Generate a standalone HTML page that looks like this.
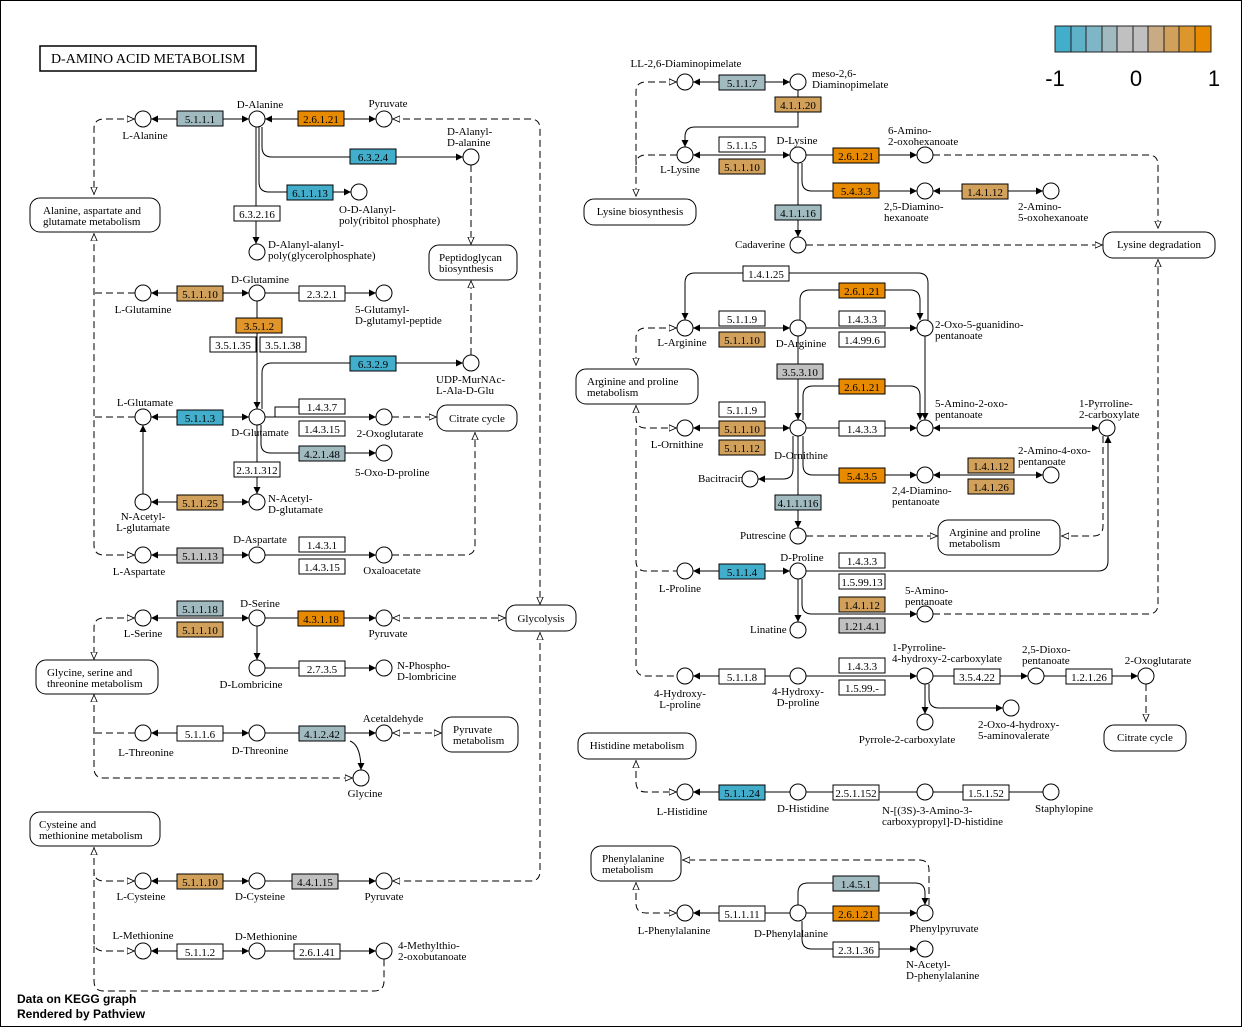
<!DOCTYPE html>
<html><head><meta charset="utf-8"><style>
html,body{margin:0;padding:0;background:#fff}
svg{display:block}
text{font-family:"Liberation Serif",serif;font-size:11px;fill:#000}
.c{fill:#fff;stroke:#000;stroke-width:1}
.l{fill:none;stroke:#000;stroke-width:1}
.d{fill:none;stroke:#000;stroke-width:1;stroke-dasharray:7,4}
.b{stroke:#000;stroke-width:1}
.p{fill:#fff;stroke:#000;stroke-width:1}
.m{text-anchor:middle}
</style></head><body>
<svg width="1242" height="1027" viewBox="0 0 1242 1027" xmlns="http://www.w3.org/2000/svg">
<defs>
<marker id="a" viewBox="0 0 10 10" refX="10" refY="5" markerWidth="7" markerHeight="7" orient="auto-start-reverse"><path d="M0,0L10,5L0,10z" fill="#000"/></marker>
<marker id="o" viewBox="0 0 10 10" refX="10" refY="5" markerWidth="8" markerHeight="8" orient="auto-start-reverse"><path d="M0,1L9,5L0,9z" fill="#fff" stroke="#000" stroke-width="1"/></marker>
</defs>
<rect x="0.5" y="0.5" width="1241" height="1026" fill="#fff" stroke="#000"/>
<!-- legend -->
<g stroke="#222" stroke-width="1">
<rect x="1055" y="26" width="16" height="26" fill="#43aecb"/><rect x="1071" y="26" width="15" height="26" fill="#5fb1c7"/><rect x="1086" y="26" width="16" height="26" fill="#7fb6c5"/><rect x="1102" y="26" width="15" height="26" fill="#a0bac0"/><rect x="1117" y="26" width="16" height="26" fill="#c0c0c0"/><rect x="1133" y="26" width="15" height="26" fill="#c0c0c0"/><rect x="1148" y="26" width="16" height="26" fill="#c8aa85"/><rect x="1164" y="26" width="15" height="26" fill="#d1a05a"/><rect x="1179" y="26" width="16" height="26" fill="#dd952e"/><rect x="1195" y="26" width="16" height="26" fill="#e78a00"/>
</g>
<text x="1055" y="86" class="m" style="font-family:'Liberation Sans',sans-serif;font-size:22px">-1</text>
<text x="1136" y="86" class="m" style="font-family:'Liberation Sans',sans-serif;font-size:22px">0</text>
<text x="1214" y="86" class="m" style="font-family:'Liberation Sans',sans-serif;font-size:22px">1</text>
<!-- title -->
<rect x="40" y="46" width="216" height="25" fill="#fff" stroke="#000" stroke-width="1.5"/>
<text x="148" y="63" class="m" style="font-size:14px">D-AMINO ACID  METABOLISM</text>

<!-- LEFT lines -->
<g class="l">
<path d="M151,119H249" marker-start="url(#a)" marker-end="url(#a)"/>
<path d="M265,119H376" marker-start="url(#a)" marker-end="url(#a)"/>
<path d="M262,127V147Q262,157 272,157H463" marker-end="url(#a)"/>
<path d="M259,127V182Q259,192 269,192H351" marker-end="url(#a)"/>
<path d="M256,127V244" marker-end="url(#a)"/>
<path d="M151,293H249" marker-start="url(#a)" marker-end="url(#a)"/>
<path d="M265,293H376" marker-end="url(#a)"/>
<path d="M257,301V409" marker-end="url(#a)"/>
<path d="M262,409V373Q262,363 272,363H463" marker-end="url(#a)"/>
<path d="M151,417H249" marker-start="url(#a)" marker-end="url(#a)"/>
<path d="M265,417H376" marker-end="url(#a)"/>
<path d="M275,417V407H299"/>
<path d="M261,425V444Q261,453 271,453H376" marker-end="url(#a)"/>
<path d="M257,425V494" marker-end="url(#a)"/>
<path d="M151,502H249" marker-start="url(#a)" marker-end="url(#a)"/>
<path d="M143,494V425" marker-end="url(#a)"/>
<path d="M151,555H249" marker-start="url(#a)" marker-end="url(#a)"/>
<path d="M265,555H376" marker-end="url(#a)"/>
<path d="M151,618H249" marker-start="url(#a)" marker-end="url(#a)"/>
<path d="M265,618H376" marker-end="url(#a)"/>
<path d="M257,626V660" marker-end="url(#a)"/>
<path d="M265,668H376" marker-end="url(#a)"/>
<path d="M151,733H249" marker-start="url(#a)" marker-end="url(#a)"/>
<path d="M265,733H376" marker-end="url(#a)"/>
<path d="M350,741Q361,745 361,770" marker-end="url(#a)"/>
<path d="M151,881H249" marker-start="url(#a)" marker-end="url(#a)"/>
<path d="M265,881H376" marker-end="url(#a)"/>
<path d="M151,951H249" marker-start="url(#a)" marker-end="url(#a)"/>
<path d="M265,951H376" marker-end="url(#a)"/>
</g>
<g class="d">
<path d="M135,119H104Q94,119 94,129V195" marker-start="url(#o)" marker-end="url(#o)"/>
<path d="M135,293H94"/>
<path d="M135,417H94"/>
<path d="M135,555H104Q94,555 94,545V233" marker-start="url(#o)" marker-end="url(#o)"/>
<path d="M392,119H530Q540,119 540,129V605" marker-start="url(#o)" marker-end="url(#o)"/>
<path d="M471,165V245" marker-end="url(#o)"/>
<path d="M471,355V280" marker-end="url(#o)"/>
<path d="M392,417H437" marker-end="url(#o)"/>
<path d="M392,555H465Q475,555 475,545V432" marker-end="url(#o)"/>
<path d="M392,618H506" marker-start="url(#o)" marker-end="url(#o)"/>
<path d="M135,618H104Q94,618 94,628V660" marker-start="url(#o)" marker-end="url(#o)"/>
<path d="M94,694V768Q94,778 104,778H353" marker-start="url(#o)" marker-end="url(#o)"/>
<path d="M135,733H94"/>
<path d="M392,733H442" marker-start="url(#o)" marker-end="url(#o)"/>
<path d="M540,632V871Q540,881 530,881H392" marker-start="url(#o)" marker-end="url(#o)"/>
<path d="M94,847V981Q94,991 104,991H374Q384,991 384,981V959" marker-start="url(#o)"/>
<path d="M135,881H104Q94,881 94,871" marker-start="url(#o)"/>
<path d="M135,951H104Q94,951 94,941" marker-start="url(#o)"/>
</g>

<!-- RIGHT lines -->
<g class="l">
<path d="M693,82H790" marker-start="url(#a)" marker-end="url(#a)"/>
<path d="M798,90V127H695Q685,127 685,137V147" marker-end="url(#a)"/>
<path d="M693,155H790" marker-start="url(#a)" marker-end="url(#a)"/>
<path d="M806,155H917" marker-end="url(#a)"/>
<path d="M802,163V181Q802,191 812,191H917" marker-end="url(#a)"/>
<path d="M933,191H1043" marker-start="url(#a)" marker-end="url(#a)"/>
<path d="M798,163V237" marker-end="url(#a)"/>
<path d="M928,320V283Q928,273 918,273H695Q685,273 685,283V320" marker-end="url(#a)"/>
<path d="M693,328H790" marker-start="url(#a)" marker-end="url(#a)"/>
<path d="M806,328H917" marker-end="url(#a)"/>
<path d="M800,320V300Q800,290 810,290H910Q920,290 920,300V320" marker-end="url(#a)"/>
<path d="M798,336V420" marker-end="url(#a)"/>
<path d="M803,420V396Q803,386 813,386H910Q920,386 920,396V420" marker-end="url(#a)"/>
<path d="M925,336V420" marker-end="url(#a)"/>
<path d="M693,428H790" marker-start="url(#a)" marker-end="url(#a)"/>
<path d="M806,428H917" marker-end="url(#a)"/>
<path d="M1099,428H933" marker-start="url(#a)" marker-end="url(#a)"/>
<path d="M803,436V465Q803,475 813,475H917" marker-end="url(#a)"/>
<path d="M933,475H1043" marker-start="url(#a)" marker-end="url(#a)"/>
<path d="M793,436V469Q793,479 783,479H758" marker-end="url(#a)"/>
<path d="M798,436V528" marker-end="url(#a)"/>
<path d="M693,571H790" marker-start="url(#a)" marker-end="url(#a)"/>
<path d="M806,571H1098Q1108,571 1108,561V436" marker-end="url(#a)"/>
<path d="M802,579V604Q802,614 812,614H917" marker-end="url(#a)"/>
<path d="M798,579V622" marker-end="url(#a)"/>
<path d="M790,676H693" marker-end="url(#a)"/>
<path d="M806,676H917" marker-end="url(#a)"/>
<path d="M933,676H1028" marker-end="url(#a)"/>
<path d="M1044,676H1138" marker-end="url(#a)"/>
<path d="M925,684V714" marker-end="url(#a)"/>
<path d="M929,684V698Q929,708 939,708H1003" marker-end="url(#a)"/>
<path d="M790,792H693" marker-end="url(#a)"/>
<path d="M806,792H917"/>
<path d="M933,792H1043"/>
<path d="M790,913H693" marker-end="url(#a)"/>
<path d="M806,913H917" marker-end="url(#a)"/>
<path d="M798,905V893Q798,883 808,883H915Q925,883 925,893V905" marker-end="url(#a)"/>
<path d="M802,921V939Q802,949 812,949H917" marker-end="url(#a)"/>
</g>
<g class="d">
<path d="M677,82H646Q636,82 636,92V197" marker-start="url(#o)" marker-end="url(#o)"/>
<path d="M677,155H646Q636,155 636,165"/>
<path d="M933,155H1148Q1158,155 1158,165V229" marker-end="url(#o)"/>
<path d="M806,245H1103" marker-end="url(#o)"/>
<path d="M677,328H646Q636,328 636,338V366" marker-start="url(#o)" marker-end="url(#o)"/>
<path d="M636,405V418Q636,428 646,428H677" marker-start="url(#o)" marker-end="url(#o)"/>
<path d="M636,428V561Q636,571 646,571H677"/>
<path d="M636,571V666Q636,676 646,676H677"/>
<path d="M806,536H938" marker-end="url(#o)"/>
<path d="M1103,436V526Q1103,536 1093,536H1061" marker-end="url(#o)"/>
<path d="M933,614H1148Q1158,614 1158,604V259" marker-end="url(#o)"/>
<path d="M1146,684V722" marker-end="url(#o)"/>
<path d="M636,760V782Q636,792 646,792H677" marker-start="url(#o)" marker-end="url(#o)"/>
<path d="M636,882V903Q636,913 646,913H677" marker-start="url(#o)" marker-end="url(#o)"/>
<path d="M929,905V870Q929,860 919,860H682" marker-end="url(#o)"/>
</g>

<!-- circles -->
<g class="c">
<circle cx="143" cy="119" r="8"/><circle cx="257" cy="119" r="8"/><circle cx="384" cy="119" r="8"/><circle cx="471" cy="157" r="8"/><circle cx="359" cy="192" r="8"/><circle cx="257" cy="252" r="8"/>
<circle cx="143" cy="293" r="8"/><circle cx="257" cy="293" r="8"/><circle cx="384" cy="293" r="8"/><circle cx="471" cy="363" r="8"/>
<circle cx="143" cy="417" r="8"/><circle cx="257" cy="417" r="8"/><circle cx="384" cy="417" r="8"/><circle cx="384" cy="453" r="8"/><circle cx="257" cy="502" r="8"/><circle cx="143" cy="502" r="8"/>
<circle cx="143" cy="555" r="8"/><circle cx="257" cy="555" r="8"/><circle cx="384" cy="555" r="8"/>
<circle cx="143" cy="618" r="8"/><circle cx="257" cy="618" r="8"/><circle cx="384" cy="618" r="8"/><circle cx="257" cy="668" r="8"/><circle cx="384" cy="668" r="8"/>
<circle cx="143" cy="733" r="8"/><circle cx="257" cy="733" r="8"/><circle cx="384" cy="733" r="8"/><circle cx="361" cy="778" r="8"/>
<circle cx="143" cy="881" r="8"/><circle cx="257" cy="881" r="8"/><circle cx="384" cy="881" r="8"/>
<circle cx="143" cy="951" r="8"/><circle cx="257" cy="951" r="8"/><circle cx="384" cy="951" r="8"/>
<circle cx="685" cy="82" r="8"/><circle cx="798" cy="82" r="8"/><circle cx="685" cy="155" r="8"/><circle cx="798" cy="155" r="8"/><circle cx="925" cy="155" r="8"/><circle cx="925" cy="191" r="8"/><circle cx="1051" cy="191" r="8"/><circle cx="798" cy="245" r="8"/>
<circle cx="685" cy="328" r="8"/><circle cx="798" cy="328" r="8"/><circle cx="925" cy="328" r="8"/>
<circle cx="685" cy="428" r="8"/><circle cx="798" cy="428" r="8"/><circle cx="925" cy="428" r="8"/><circle cx="1107" cy="428" r="8"/>
<circle cx="925" cy="475" r="8"/><circle cx="1051" cy="475" r="8"/><circle cx="750" cy="479" r="8"/><circle cx="798" cy="536" r="8"/>
<circle cx="685" cy="571" r="8"/><circle cx="798" cy="571" r="8"/><circle cx="925" cy="614" r="8"/><circle cx="798" cy="630" r="8"/>
<circle cx="685" cy="676" r="8"/><circle cx="798" cy="676" r="8"/><circle cx="925" cy="676" r="8"/><circle cx="1036" cy="676" r="8"/><circle cx="1146" cy="676" r="8"/><circle cx="925" cy="722" r="8"/><circle cx="1011" cy="708" r="8"/>
<circle cx="685" cy="792" r="8"/><circle cx="798" cy="792" r="8"/><circle cx="925" cy="792" r="8"/><circle cx="1051" cy="792" r="8"/>
<circle cx="685" cy="913" r="8"/><circle cx="798" cy="913" r="8"/><circle cx="925" cy="913" r="8"/><circle cx="925" cy="949" r="8"/>
</g>

<!-- pathway boxes -->
<g class="p">
<rect x="30" y="198" width="130" height="34" rx="10"/><rect x="429" y="245" width="88" height="35" rx="10"/><rect x="437" y="405" width="80" height="26" rx="10"/>
<rect x="506" y="605" width="70" height="26" rx="10"/><rect x="36" y="660" width="122" height="34" rx="10"/><rect x="442" y="717" width="76" height="35" rx="10"/>
<rect x="30" y="812" width="130" height="34" rx="10"/>
<rect x="584" y="199" width="112" height="26" rx="10"/><rect x="1103" y="232" width="112" height="26" rx="10"/><rect x="576" y="369" width="122" height="35" rx="10"/><rect x="938" y="520" width="122" height="35" rx="10"/>
<rect x="1104" y="725" width="82" height="26" rx="10"/><rect x="578" y="733" width="118" height="26" rx="10"/><rect x="591" y="846" width="90" height="35" rx="10"/>
</g>
<text x="43" y="214">Alanine, aspartate and</text><text x="43" y="225">glutamate metabolism</text>
<text x="439" y="261">Peptidoglycan</text><text x="439" y="272">biosynthesis</text>
<text x="477" y="422" class="m">Citrate cycle</text>
<text x="541" y="622" class="m">Glycolysis</text>
<text x="47" y="676">Glycine, serine and</text><text x="47" y="687">threonine metabolism</text>
<text x="453" y="733">Pyruvate</text><text x="453" y="744">metabolism</text>
<text x="39" y="828">Cysteine and</text><text x="39" y="839">methionine metabolism</text>
<text x="640" y="215" class="m">Lysine biosynthesis</text>
<text x="1159" y="248" class="m">Lysine degradation</text>
<text x="587" y="385">Arginine and proline</text><text x="587" y="396">metabolism</text>
<text x="949" y="536">Arginine and proline</text><text x="949" y="547">metabolism</text>
<text x="1145" y="741" class="m">Citrate cycle</text>
<text x="637" y="749" class="m">Histidine metabolism</text>
<text x="602" y="862">Phenylalanine</text><text x="602" y="873">metabolism</text>

<!-- enzyme boxes -->
<g class="b">
<rect x="177" y="111" width="46" height="15" fill="#a0bac0"/><rect x="298" y="111" width="46" height="15" fill="#e78a00"/><rect x="350" y="149" width="46" height="15" fill="#43aecb"/><rect x="287" y="185" width="46" height="15" fill="#43aecb"/><rect x="234" y="206" width="46" height="15" fill="#fff"/>
<rect x="177" y="286" width="46" height="15" fill="#d1a05a"/><rect x="299" y="286" width="46" height="15" fill="#fff"/><rect x="236" y="318" width="46" height="15" fill="#e0952b"/><rect x="210" y="337" width="46" height="15" fill="#fff"/><rect x="260" y="337" width="46" height="15" fill="#fff"/>
<rect x="350" y="356" width="46" height="15" fill="#43aecb"/><rect x="177" y="410" width="46" height="15" fill="#43aecb"/><rect x="299" y="399" width="46" height="15" fill="#fff"/><rect x="299" y="421" width="46" height="15" fill="#fff"/><rect x="299" y="446" width="46" height="15" fill="#a0bac0"/><rect x="234" y="462" width="46" height="15" fill="#fff"/>
<rect x="177" y="495" width="46" height="15" fill="#d1a05a"/><rect x="177" y="548" width="46" height="15" fill="#c0c0c0"/><rect x="299" y="537" width="46" height="15" fill="#fff"/><rect x="299" y="559" width="46" height="15" fill="#fff"/>
<rect x="177" y="601" width="46" height="15" fill="#a0bac0"/><rect x="177" y="622" width="46" height="15" fill="#d1a05a"/><rect x="298" y="611" width="46" height="15" fill="#e78a00"/><rect x="299" y="661" width="46" height="15" fill="#fff"/>
<rect x="177" y="726" width="46" height="15" fill="#fff"/><rect x="299" y="726" width="46" height="15" fill="#a0bac0"/>
<rect x="177" y="874" width="46" height="15" fill="#d1a05a"/><rect x="292" y="874" width="46" height="15" fill="#c0c0c0"/><rect x="177" y="944" width="46" height="15" fill="#fff"/><rect x="294" y="944" width="46" height="15" fill="#fff"/>
<rect x="719" y="75" width="46" height="15" fill="#a0bac0"/><rect x="775" y="97" width="46" height="15" fill="#d1a05a"/><rect x="719" y="137" width="46" height="15" fill="#fff"/><rect x="719" y="159" width="46" height="15" fill="#d1a05a"/><rect x="833" y="148" width="46" height="15" fill="#e78a00"/><rect x="833" y="183" width="46" height="15" fill="#e78a00"/><rect x="962" y="184" width="46" height="15" fill="#d1a05a"/><rect x="775" y="205" width="46" height="15" fill="#a0bac0"/>
<rect x="743" y="266" width="46" height="15" fill="#fff"/><rect x="839" y="283" width="46" height="15" fill="#e78a00"/><rect x="719" y="311" width="46" height="15" fill="#fff"/><rect x="719" y="332" width="46" height="15" fill="#d1a05a"/><rect x="839" y="311" width="46" height="15" fill="#fff"/><rect x="839" y="332" width="46" height="15" fill="#fff"/>
<rect x="777" y="364" width="46" height="15" fill="#c0c0c0"/><rect x="839" y="379" width="46" height="15" fill="#e78a00"/><rect x="719" y="402" width="46" height="15" fill="#fff"/><rect x="719" y="421" width="46" height="15" fill="#d1a05a"/><rect x="719" y="440" width="46" height="15" fill="#d1a05a"/><rect x="839" y="421" width="46" height="15" fill="#fff"/>
<rect x="839" y="468" width="46" height="15" fill="#e78a00"/><rect x="968" y="458" width="46" height="15" fill="#d1a05a"/><rect x="968" y="479" width="46" height="15" fill="#d1a05a"/><rect x="775" y="495" width="46" height="15" fill="#a0bac0"/>
<rect x="719" y="564" width="46" height="15" fill="#43aecb"/><rect x="839" y="553" width="46" height="15" fill="#fff"/><rect x="839" y="574" width="46" height="15" fill="#fff"/><rect x="839" y="597" width="46" height="15" fill="#d1a05a"/><rect x="839" y="618" width="46" height="15" fill="#c0c0c0"/>
<rect x="719" y="669" width="46" height="15" fill="#fff"/><rect x="839" y="658" width="46" height="15" fill="#fff"/><rect x="839" y="680" width="46" height="15" fill="#fff"/><rect x="954" y="669" width="46" height="15" fill="#fff"/><rect x="1066" y="669" width="46" height="15" fill="#fff"/>
<rect x="719" y="785" width="46" height="15" fill="#43aecb"/><rect x="833" y="785" width="46" height="15" fill="#fff"/><rect x="963" y="785" width="46" height="15" fill="#fff"/>
<rect x="833" y="876" width="46" height="15" fill="#a0bac0"/><rect x="719" y="906" width="46" height="15" fill="#fff"/><rect x="833" y="906" width="46" height="15" fill="#e78a00"/><rect x="833" y="942" width="46" height="15" fill="#fff"/>
</g>
<g class="m">
<text x="200" y="123">5.1.1.1</text><text x="321" y="123">2.6.1.21</text><text x="373" y="161">6.3.2.4</text><text x="310" y="197">6.1.1.13</text><text x="257" y="218">6.3.2.16</text>
<text x="200" y="298">5.1.1.10</text><text x="322" y="298">2.3.2.1</text><text x="259" y="330">3.5.1.2</text><text x="233" y="349">3.5.1.35</text><text x="283" y="349">3.5.1.38</text>
<text x="373" y="368">6.3.2.9</text><text x="200" y="422">5.1.1.3</text><text x="322" y="411">1.4.3.7</text><text x="322" y="433">1.4.3.15</text><text x="322" y="458">4.2.1.48</text><text x="257" y="474">2.3.1.312</text>
<text x="200" y="507">5.1.1.25</text><text x="200" y="560">5.1.1.13</text><text x="322" y="549">1.4.3.1</text><text x="322" y="571">1.4.3.15</text>
<text x="200" y="613">5.1.1.18</text><text x="200" y="634">5.1.1.10</text><text x="321" y="623">4.3.1.18</text><text x="322" y="673">2.7.3.5</text>
<text x="200" y="738">5.1.1.6</text><text x="322" y="738">4.1.2.42</text>
<text x="200" y="886">5.1.1.10</text><text x="315" y="886">4.4.1.15</text><text x="200" y="956">5.1.1.2</text><text x="317" y="956">2.6.1.41</text>
<text x="742" y="87">5.1.1.7</text><text x="798" y="109">4.1.1.20</text><text x="742" y="149">5.1.1.5</text><text x="742" y="171">5.1.1.10</text><text x="856" y="160">2.6.1.21</text><text x="856" y="195">5.4.3.3</text><text x="985" y="196">1.4.1.12</text><text x="798" y="217">4.1.1.16</text>
<text x="766" y="278">1.4.1.25</text><text x="862" y="295">2.6.1.21</text><text x="742" y="323">5.1.1.9</text><text x="742" y="344">5.1.1.10</text><text x="862" y="323">1.4.3.3</text><text x="862" y="344">1.4.99.6</text>
<text x="800" y="376">3.5.3.10</text><text x="862" y="391">2.6.1.21</text><text x="742" y="414">5.1.1.9</text><text x="742" y="433">5.1.1.10</text><text x="742" y="452">5.1.1.12</text><text x="862" y="433">1.4.3.3</text>
<text x="862" y="480">5.4.3.5</text><text x="991" y="470">1.4.1.12</text><text x="991" y="491">1.4.1.26</text><text x="798" y="507">4.1.1.116</text>
<text x="742" y="576">5.1.1.4</text><text x="862" y="565">1.4.3.3</text><text x="862" y="586">1.5.99.13</text><text x="862" y="609">1.4.1.12</text><text x="862" y="630">1.21.4.1</text>
<text x="742" y="681">5.1.1.8</text><text x="862" y="670">1.4.3.3</text><text x="862" y="692">1.5.99.-</text><text x="977" y="681">3.5.4.22</text><text x="1089" y="681">1.2.1.26</text>
<text x="742" y="797">5.1.1.24</text><text x="856" y="797">2.5.1.152</text><text x="986" y="797">1.5.1.52</text>
<text x="856" y="888">1.4.5.1</text><text x="742" y="918">5.1.1.11</text><text x="856" y="918">2.6.1.21</text><text x="856" y="954">2.3.1.36</text>
</g>

<!-- compound labels -->
<g class="m">
<text x="145" y="139">L-Alanine</text><text x="260" y="108">D-Alanine</text><text x="388" y="107">Pyruvate</text>
<text x="143" y="313">L-Glutamine</text><text x="260" y="283">D-Glutamine</text>
<text x="145" y="406">L-Glutamate</text><text x="260" y="436">D-Glutamate</text><text x="390" y="437">2-Oxoglutarate</text>
<text x="143" y="520">N-Acetyl-</text><text x="143" y="531">L-glutamate</text>
<text x="139" y="575">L-Aspartate</text><text x="260" y="543">D-Aspartate</text><text x="392" y="574">Oxaloacetate</text>
<text x="143" y="637">L-Serine</text><text x="260" y="607">D-Serine</text><text x="388" y="637">Pyruvate</text><text x="251" y="688">D-Lombricine</text>
<text x="146" y="756">L-Threonine</text><text x="260" y="754">D-Threonine</text><text x="393" y="722">Acetaldehyde</text><text x="365" y="797">Glycine</text>
<text x="141" y="900">L-Cysteine</text><text x="260" y="900">D-Cysteine</text><text x="384" y="900">Pyruvate</text>
<text x="143" y="939">L-Methionine</text><text x="266" y="940">D-Methionine</text>
<text x="686" y="67">LL-2,6-Diaminopimelate</text><text x="797" y="144">D-Lysine</text><text x="680" y="173">L-Lysine</text>
<text x="682" y="346">L-Arginine</text><text x="801" y="347">D-Arginine</text><text x="677" y="448">L-Ornithine</text><text x="801" y="459">D-Ornithine</text>
<text x="680" y="592">L-Proline</text><text x="802" y="561">D-Proline</text>
<text x="680" y="697">4-Hydroxy-</text><text x="680" y="708">L-proline</text><text x="798" y="695">4-Hydroxy-</text><text x="798" y="706">D-proline</text>
<text x="907" y="743">Pyrrole-2-carboxylate</text><text x="1158" y="664">2-Oxoglutarate</text>
<text x="682" y="815">L-Histidine</text><text x="803" y="812">D-Histidine</text><text x="1064" y="812">Staphylopine</text>
<text x="674" y="934">L-Phenylalanine</text><text x="791" y="937">D-Phenylalanine</text><text x="944" y="932">Phenylpyruvate</text>
</g>
<text x="447" y="135">D-Alanyl-</text><text x="447" y="146">D-alanine</text>
<text x="339" y="213">O-D-Alanyl-</text><text x="339" y="224">poly(ribitol phosphate)</text>
<text x="268" y="248">D-Alanyl-alanyl-</text><text x="268" y="259">poly(glycerolphosphate)</text>
<text x="355" y="313">5-Glutamyl-</text><text x="355" y="324">D-glutamyl-peptide</text>
<text x="436" y="383">UDP-MurNAc-</text><text x="436" y="394">L-Ala-D-Glu</text>
<text x="355" y="476">5-Oxo-D-proline</text>
<text x="268" y="502">N-Acetyl-</text><text x="268" y="513">D-glutamate</text>
<text x="397" y="669">N-Phospho-</text><text x="397" y="680">D-lombricine</text>
<text x="398" y="949">4-Methylthio-</text><text x="398" y="960">2-oxobutanoate</text>
<text x="812" y="77">meso-2,6-</text><text x="812" y="88">Diaminopimelate</text>
<text x="888" y="134">6-Amino-</text><text x="888" y="145">2-oxohexanoate</text>
<text x="884" y="210">2,5-Diamino-</text><text x="884" y="221">hexanoate</text>
<text x="1018" y="210">2-Amino-</text><text x="1018" y="221">5-oxohexanoate</text>
<text x="735" y="248">Cadaverine</text>
<text x="935" y="328">2-Oxo-5-guanidino-</text><text x="935" y="339">pentanoate</text>
<text x="935" y="407">5-Amino-2-oxo-</text><text x="935" y="418">pentanoate</text>
<text x="1079" y="407">1-Pyrroline-</text><text x="1079" y="418">2-carboxylate</text>
<text x="892" y="494">2,4-Diamino-</text><text x="892" y="505">pentanoate</text>
<text x="1018" y="454">2-Amino-4-oxo-</text><text x="1018" y="465">pentanoate</text>
<text x="698" y="482">Bacitracin</text><text x="740" y="539">Putrescine</text>
<text x="905" y="594">5-Amino-</text><text x="905" y="605">pentanoate</text>
<text x="750" y="633">Linatine</text>
<text x="892" y="651">1-Pyrroline-</text><text x="892" y="662">4-hydroxy-2-carboxylate</text>
<text x="1022" y="653">2,5-Dioxo-</text><text x="1022" y="664">pentanoate</text>
<text x="978" y="728">2-Oxo-4-hydroxy-</text><text x="978" y="739">5-aminovalerate</text>
<text x="882" y="814">N-[(3S)-3-Amino-3-</text><text x="882" y="825">carboxypropyl]-D-histidine</text>
<text x="906" y="968">N-Acetyl-</text><text x="906" y="979">D-phenylalanine</text>

<text x="17" y="1003" style="font-family:'Liberation Sans',sans-serif;font-size:12px;font-weight:bold">Data on KEGG graph</text>
<text x="17" y="1018" style="font-family:'Liberation Sans',sans-serif;font-size:12px;font-weight:bold">Rendered by Pathview</text>
</svg>
</body></html>
